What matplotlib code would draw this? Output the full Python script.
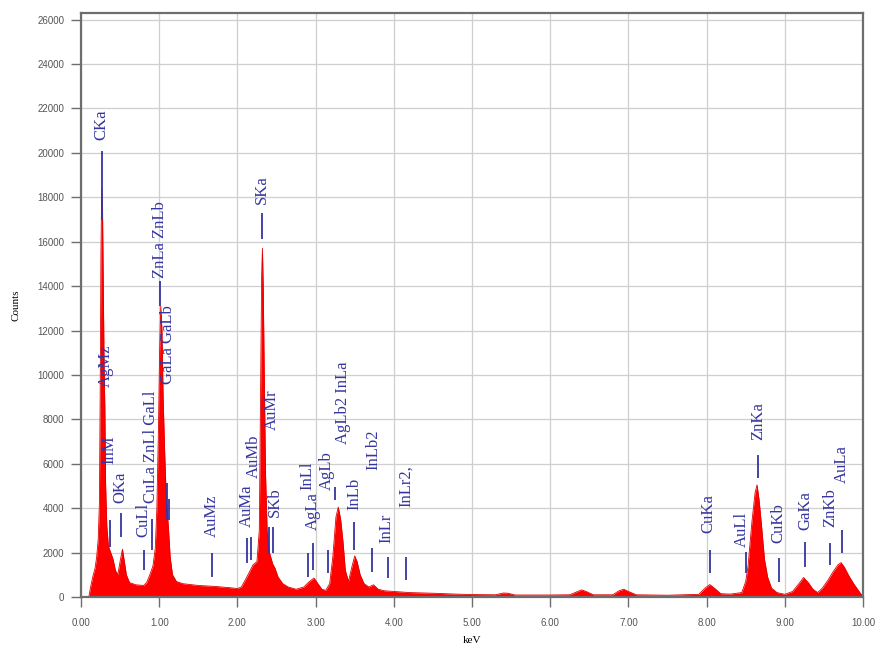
import matplotlib
matplotlib.use('Agg')
import matplotlib.pyplot as plt
import numpy as np

# EDS spectrum (keV, counts)
energy = [0.00, 0.10, 0.12, 0.15, 0.18, 0.20, 0.22, 0.235, 0.245, 0.255,
          0.265, 0.275, 0.285, 0.295, 0.305, 0.315, 0.33, 0.35, 0.38, 0.41,
          0.44, 0.47, 0.50, 0.53, 0.55, 0.58, 0.62, 0.70, 0.80, 0.84,
          0.88, 0.92, 0.95, 0.97, 0.99, 1.005, 1.02, 1.035, 1.05, 1.07,
          1.09, 1.10, 1.12, 1.14, 1.17, 1.22, 1.30, 1.50, 1.70, 1.90,
          2.00, 2.05, 2.09, 2.15, 2.20, 2.25, 2.28, 2.295, 2.31, 2.32,
          2.33, 2.345, 2.36, 2.38, 2.41, 2.45, 2.48, 2.52, 2.58, 2.65,
          2.75, 2.85, 2.92, 2.98, 3.03, 3.08, 3.13, 3.18, 3.22, 3.26,
          3.29, 3.32, 3.35, 3.38, 3.42, 3.46, 3.50, 3.53, 3.57, 3.62,
          3.68, 3.74, 3.80, 3.88, 4.00, 4.20, 4.50, 4.80, 5.00, 5.30,
          5.40, 5.46, 5.55, 6.00, 6.25, 6.35, 6.40, 6.46, 6.55, 6.80,
          6.88, 6.94, 7.00, 7.10, 7.50, 7.90, 7.98, 8.04, 8.10, 8.18,
          8.30, 8.45, 8.50, 8.53, 8.58, 8.62, 8.645, 8.67, 8.70, 8.74,
          8.78, 8.83, 8.90, 9.00, 9.10, 9.18, 9.24, 9.30, 9.36, 9.42,
          9.48, 9.55, 9.62, 9.68, 9.72, 9.76, 9.82, 9.88, 9.95, 10.00]
counts = [0, 0, 400, 900, 1300, 1800, 2600, 4200, 9000, 15500,
          18400, 17500, 14000, 10500, 8500, 5000, 3200, 2300, 2000, 1700,
          1200, 1000, 1600, 2150, 1700, 1000, 650, 550, 520, 650,
          1000, 1400, 2200, 4000, 7500, 11000, 13100, 12000, 9000, 6500,
          4500, 4000, 3000, 1800, 1000, 700, 600, 520, 480, 420,
          380, 450, 700, 1100, 1450, 1600, 3000, 8500, 14500, 15700,
          14000, 9500, 5500, 3000, 2000, 1500, 1300, 900, 600, 450,
          350, 450, 700, 850, 600, 350, 300, 600, 1800, 3600,
          4050, 3500, 2500, 1200, 700, 1300, 1850, 1600, 1000, 600,
          450, 550, 350, 280, 250, 200, 170, 130, 110, 100,
          180, 170, 90, 90, 100, 250, 320, 250, 100, 100,
          280, 350, 250, 100, 80, 120, 400, 560, 400, 150,
          130, 200, 700, 1400, 3400, 4700, 5050, 4400, 3300, 1700,
          900, 400, 200, 120, 250, 600, 880, 650, 350, 200,
          400, 750, 1150, 1450, 1550, 1350, 950, 600, 250, 0]

# peak labels: name, text x (keV), text base (counts)
peak_names = ['CKa', 'AgMz', 'InM', 'OKa', 'CuLl', 'CuLa ZnLl GaLl', 'ZnLa ZnLb',
              'GaLa GaLb', 'AuMz', 'AuMa', 'AuMb', 'SKa', 'AuMr', 'SKb',
              'InLl', 'AgLa', 'AgLb', 'AgLb2 InLa', 'InLb', 'InLb2', 'InLr',
              'InLr2,', 'CuKa', 'AuLl', 'ZnKa', 'CuKb', 'GaKa', 'ZnKb', 'AuLa']
text_kev = [0.265, 0.32, 0.36, 0.50, 0.80, 0.895, 1.01,
            1.115, 1.67, 2.12, 2.21, 2.31, 2.44, 2.48,
            2.89, 2.97, 3.14, 3.35, 3.49, 3.74, 3.91,
            4.16, 8.02, 8.45, 8.66, 8.92, 9.26, 9.58, 9.73]
text_base = [20600, 9450, 6000, 4220, 2700, 4220, 14370,
             9600, 2700, 3140, 5340, 17690, 7500, 3590,
             4800, 3010, 4800, 6900, 3900, 5700, 2430,
             4040, 2870, 2250, 7050, 2430, 3010, 3140, 5120]
# short marker lines under the labels: x (keV), low / high (counts)
mark_kev = [0.265, 0.37, 0.51, 0.805, 0.91, 1.01, 1.10, 1.13, 1.67, 2.12, 2.18,
            2.31, 2.40, 2.46, 2.90, 2.97, 3.16, 3.25, 3.49, 3.72, 3.93,
            4.16, 8.04, 8.50, 8.66, 8.92, 9.26, 9.58, 9.73]
mark_lo = [17000, 2250, 2700, 1210, 2100, 13110, 3460, 3460, 900, 1525, 1660,
           16120, 1975, 1975, 900, 1210, 1080, 4350, 2110, 1120, 850,
           760, 1080, 1080, 5340, 670, 1350, 1440, 1975]
mark_hi = [20100, 3460, 3770, 2110, 3500, 14230, 5120, 4400, 1975, 2650, 2700,
           17290, 3140, 3140, 1975, 2425, 2110, 4940, 3370, 2200, 1800,
           1800, 2110, 2020, 6380, 1750, 2470, 2425, 3010]

label_blue = '#3535a0'
frame_grey = '#6e6e6e'

fig = plt.figure(figsize=(8.82, 6.5), dpi=100)
ax = fig.add_axes([81 / 882, 53 / 650, 782 / 882, 584 / 650])

ax.fill_between(energy, counts, color='#ff0000', lw=0, zorder=2)
ax.plot(energy, counts, color='#e00000', lw=0.6, zorder=2)

ax.vlines(mark_kev, mark_lo, mark_hi, color=label_blue, lw=1.3, zorder=3)
for name, tx, ty in zip(peak_names, text_kev, text_base):
    ax.text(tx, ty, name, rotation=90, ha='center', va='bottom',
            family='Liberation Serif', fontsize=12, color=label_blue, zorder=4)

ax.set_xlim(0, 10)
ax.set_ylim(0, 26300)
ax.set_xticks(np.arange(0, 10.01, 1))
ax.set_xticklabels(['%.2f' % v for v in np.arange(0, 10.01, 1)])
ax.set_yticks(range(0, 26001, 2000))
ax.grid(True, color='#cfcfcf', lw=0.9)
ax.set_axisbelow(True)

for sp in ax.spines.values():
    sp.set_color(frame_grey)
    sp.set_linewidth(1.6)
ax.tick_params(direction='out', length=7, width=1, color=frame_grey,
               labelsize=7, labelcolor='#555555')
ax.tick_params(axis='x', pad=8)
ax.tick_params(axis='y', pad=5)
for lab in ax.get_xticklabels() + ax.get_yticklabels():
    lab.set_family('Liberation Sans')

ax.set_xlabel('keV', family='Liberation Serif', fontsize=8, labelpad=6)
ax.set_ylabel('Counts', family='Liberation Serif', fontsize=8, labelpad=12)

plt.savefig('out.png', dpi=100)
